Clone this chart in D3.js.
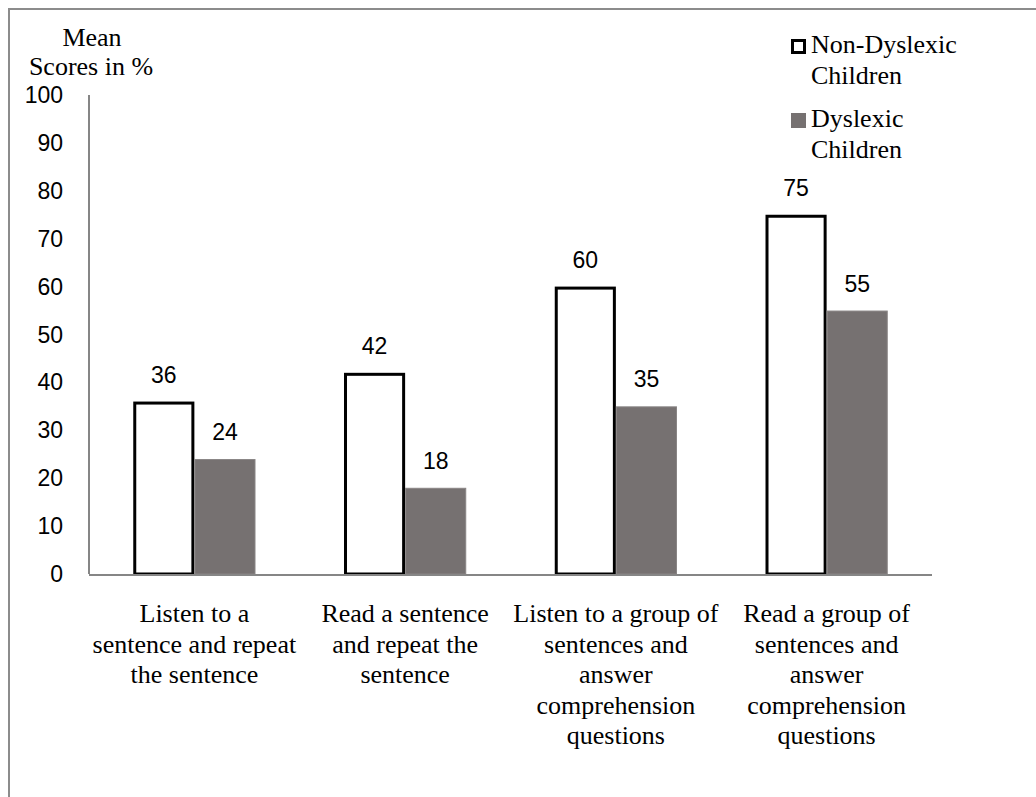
<!DOCTYPE html>
<meta charset="utf-8">
<script src="https://d3js.org/d3.v7.min.js"></script>
<style type="text/css">
body { margin: 0; background: #fff; }
.num { font-family: "Liberation Sans", Arial, sans-serif; font-size: 23px; fill: #000; }
.serif { font-family: "Liberation Serif", "Times New Roman", serif; font-size: 26px; fill: #000; }
</style>
<body>
<div id="canvas"></div>
<script>

// categories (one label line per entry)
var categories = [
  ["Listen to a", "sentence and repeat", "the sentence"],
  ["Read a sentence", "and repeat the", "sentence"],
  ["Listen to a group of", "sentences and", "answer", "comprehension", "questions"],
  ["Read a group of", "sentences and", "answer", "comprehension", "questions"]
];
var series = ["Non-Dyslexic Children", "Dyslexic Children"];
var nonDyslexic = [36, 42, 60, 75];
var dyslexic = [24, 18, 35, 55];
var yTicks = [0, 10, 20, 30, 40, 50, 60, 70, 80, 90, 100];

var width = 1036, height = 797;
var svg = d3.select('#canvas').append('svg')
  .attr('width', width).attr('height', height);

// outer frame
svg.append('path')
  .attr('d', 'M9,' + height + ' V9 H' + width)
  .style('fill', 'none').style('stroke', '#8c8c8c').style('stroke-width', 2);

var idx = d3.range(categories.length);

var x0 = d3.scaleBand()
  .domain(idx)
  .range([89, 932])
  .paddingInner(0.42)
  .paddingOuter(0.21);
var x1 = d3.scaleBand()
  .domain(series)
  .range([0, x0.bandwidth()]);
var y = d3.scaleLinear()
  .domain([0, 100])
  .range([574, 95]);

// bars -------------------------------------------------------
var rows = idx.map(function(i) {
  return [
    {s: series[0], v: nonDyslexic[i], i: i},
    {s: series[1], v: dyslexic[i], i: i}
  ];
});

var grp = svg.selectAll('g.grp').data(rows).enter()
  .append('g').attr('class', 'grp')
  .attr('transform', function(d, i) { return 'translate(' + x0(i) + ',0)'; });

grp.selectAll('rect').data(function(d) { return d; }).enter()
  .append('rect')
  .attr('x', function(d) { return x1(d.s) + (d.s === series[0] ? 1.5 : 0.5); })
  .attr('width', function(d) { return x1.bandwidth() - (d.s === series[0] ? 3 : 1); })
  .attr('y', function(d) { return y(d.v) + (d.s === series[0] ? 1.5 : 0.5); })
  .attr('height', function(d) { return y(0) - y(d.v) - (d.s === series[0] ? 1.5 : 0.5); })
  .style('fill', function(d) { return d.s === series[0] ? '#fff' : '#767171'; })
  .style('stroke', function(d) { return d.s === series[0] ? '#000' : '#898585'; })
  .style('stroke-width', function(d) { return d.s === series[0] ? 3 : 1; });

grp.selectAll('text').data(function(d) { return d; }).enter()
  .append('text')
  .attr('class', 'num')
  .attr('text-anchor', 'middle')
  .attr('x', function(d) { return x1(d.s) + x1.bandwidth() / 2; })
  .attr('y', function(d) { return y(d.v) - 19; })
  .text(function(d) { return d.v; });

// axes -------------------------------------------------------
svg.append('line')
  .attr('x1', 89).attr('x2', 89).attr('y1', y(100)).attr('y2', y(0))
  .style('stroke', '#868686').style('stroke-width', 2);
svg.append('line')
  .attr('x1', 89).attr('x2', 932).attr('y1', y(0) + 1).attr('y2', y(0) + 1)
  .style('stroke', '#868686').style('stroke-width', 2);

svg.selectAll('text.tick').data(yTicks).enter()
  .append('text')
  .attr('class', 'num tick')
  .attr('text-anchor', 'end')
  .attr('x', 63)
  .attr('y', function(d) { return y(d); })
  .attr('dy', '0.35em')
  .text(function(d) { return d; });

// category labels
var cat = svg.selectAll('text.cat').data(categories).enter()
  .append('text')
  .attr('class', 'serif cat')
  .attr('text-anchor', 'middle')
  .attr('transform', function(d, i) { return 'translate(' + (x0(i) + x0.bandwidth() / 2) + ',622)'; });
cat.selectAll('tspan').data(function(d) { return d; }).enter()
  .append('tspan')
  .attr('x', 0)
  .attr('y', function(d, j) { return j * 30.6; })
  .text(function(d) { return d; });

// y title
svg.append('text').attr('class', 'serif').attr('text-anchor', 'middle')
  .attr('x', 92).attr('y', 46).text('Mean');
svg.append('text').attr('class', 'serif').attr('text-anchor', 'middle')
  .attr('x', 91).attr('y', 75).text('Scores in %');

// legend -------------------------------------------------------
var legend = svg.selectAll('g.leg').data(series).enter()
  .append('g').attr('class', 'leg')
  .attr('transform', function(d, i) { return 'translate(791,' + (39 + i * 74) + ')'; });
legend.append('rect')
  .attr('x', function(d, i) { return i === 0 ? 1.5 : 0; })
  .attr('y', function(d, i) { return i === 0 ? 1.5 : 0; })
  .attr('width', function(d, i) { return i === 0 ? 12 : 15; })
  .attr('height', function(d, i) { return i === 0 ? 12 : 15; })
  .style('fill', function(d, i) { return i === 0 ? '#fff' : '#767171'; })
  .style('stroke', function(d, i) { return i === 0 ? '#000' : 'none'; })
  .style('stroke-width', 3);
var lt = legend.append('text').attr('class', 'serif');
lt.selectAll('tspan').data(function(d) { return d.split(' '); }).enter()
  .append('tspan')
  .attr('x', 20)
  .attr('y', function(d, j) { return 14 + j * 31; })
  .text(function(d) { return d; });
</script>
</body>
